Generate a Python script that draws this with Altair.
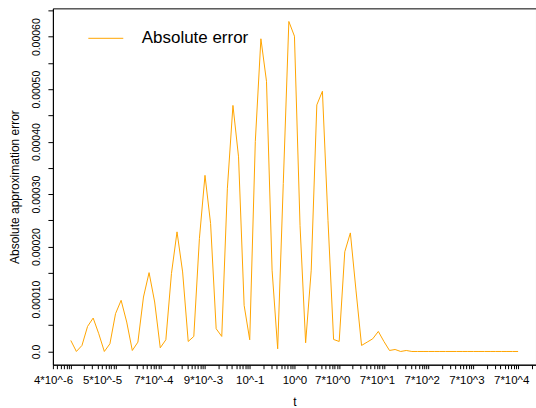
import math
import altair as alt
import pandas as pd

# Sample points: t = 10^(-5 + i/8), i = 0..80
exponents = [-5 + i / 8 for i in range(81)]

# Absolute approximation error at each t
abs_error = [
    0.0000210, 0.0000000, 0.0000115, 0.0000478, 0.0000637, 0.0000338, 0.0000000, 0.0000147,
    0.0000720, 0.0000975, 0.0000561, 0.0000019, 0.0000178, 0.0001038, 0.0001503, 0.0000943,
    0.0000070, 0.0000223, 0.0001484, 0.0002280, 0.0001516, 0.0000191, 0.0000287, 0.0002150,
    0.0003357, 0.0002440, 0.0000433, 0.0000287, 0.0003100, 0.0004690, 0.0003710, 0.0000879,
    0.0000223, 0.0004000, 0.0005960, 0.0005150, 0.0001550, 0.0000051, 0.0003200, 0.0006290,
    0.0006010, 0.0002400, 0.0000166, 0.0001550, 0.0004700, 0.0004960, 0.0002500, 0.0000229,
    0.0000191, 0.0001900, 0.0002260, 0.0001170, 0.0000115, 0.0000178, 0.0000242, 0.0000382,
    0.0000191, 0.0000019, 0.0000038, 0.0000000, 0.0000019, 0.0000000,
] + [0.0] * 19

# Labelled positions on the t axis and their texts
x_label_values = [4e-6, 5e-5, 7e-4, 9e-3, 1e-1, 1e0, 7e0, 7e1, 7e2, 7e3, 7e4]
x_label_texts = ["4*10^-6", "5*10^-5", "7*10^-4", "9*10^-3", "10^-1", "10^0",
                 "7*10^0", "7*10^1", "7*10^2", "7*10^3", "7*10^4"]

# y ticks every 5e-5, labels every 1e-4
y_tick_values = [k * 0.00005 for k in range(14)]

x_lo, x_hi = 10 ** -5.4, 10 ** 5.4
y_lo, y_hi = -0.0000252, 0.000654

# Log-style minor ticks n*10^k inside the domain
x_tick_values = [n * 10 ** k for k in range(-6, 6) for n in range(1, 10)
                 if x_lo <= n * 10 ** k <= x_hi]

df = pd.DataFrame({
    "t": [10 ** e for e in exponents],
    "err": abs_error,
    "series": ["Absolute error"] * len(abs_error),
})

# labelExpr: show a label only where the tick matches one of the labelled values
parts = []
for v, s in zip(x_label_values, x_label_texts):
    parts.append(f"abs(log(datum.value)/LN10 - ({math.log10(v):.6f})) < 0.001 ? '{s}'")
x_label_expr = " : ".join(parts) + " : ''"

y_label_expr = ("datum.value == 0 ? '0.0' : "
                "(abs(round(datum.value*20000) % 2) == 0 ? format(datum.value, '.5f') : '')")

chart = alt.Chart(df).mark_line(strokeWidth=1, clip=True).encode(
    x=alt.X(
        "t:Q",
        scale=alt.Scale(type="log", domain=[x_lo, x_hi], nice=False),
        axis=alt.Axis(
            values=x_tick_values,
            labelExpr=x_label_expr,
            title="t",
            grid=False,
            tickSize=4,
            labelPadding=6,
            labelFontSize=11.5,
            labelOverlap=False,
            labelFlush=False,
            titlePadding=10,
        ),
    ),
    y=alt.Y(
        "err:Q",
        scale=alt.Scale(domain=[y_lo, y_hi], nice=False, zero=False),
        axis=alt.Axis(
            values=y_tick_values,
            labelExpr=y_label_expr,
            title="Absolute approximation error",
            grid=False,
            tickSize=5,
            labelAngle=-90,
            labelAlign="center",
            labelBaseline="bottom",
            labelPadding=6,
            labelFontSize=10.5,
            labelOverlap=False,
            labelFlush=False,
            titlePadding=10,
        ),
    ),
    color=alt.Color(
        "series:N",
        scale=alt.Scale(range=["orange"]),
        legend=alt.Legend(
            orient="none",
            legendX=35,
            legendY=12,
            title=None,
            symbolType="stroke",
            symbolSize=1225,
            symbolStrokeWidth=1,
            labelFontSize=17,
            labelOffset=18,
            padding=0,
        ),
    ),
).properties(
    width=484,
    height=357,
    autosize=alt.AutoSizeParams(type="none"),
    padding={"left": 53, "top": 8, "right": 0, "bottom": 43},
).configure(
    font="Liberation Sans",
).configure_view(
    stroke="black",
    strokeWidth=1,
).configure_axis(
    domainColor="black",
    tickColor="black",
    labelColor="black",
    titleColor="black",
    titleFontWeight="normal",
    titleFontSize=12,
).configure_legend(
    labelColor="black",
)

chart.save("out.html", embed_options={"renderer": "svg", "actions": False})
